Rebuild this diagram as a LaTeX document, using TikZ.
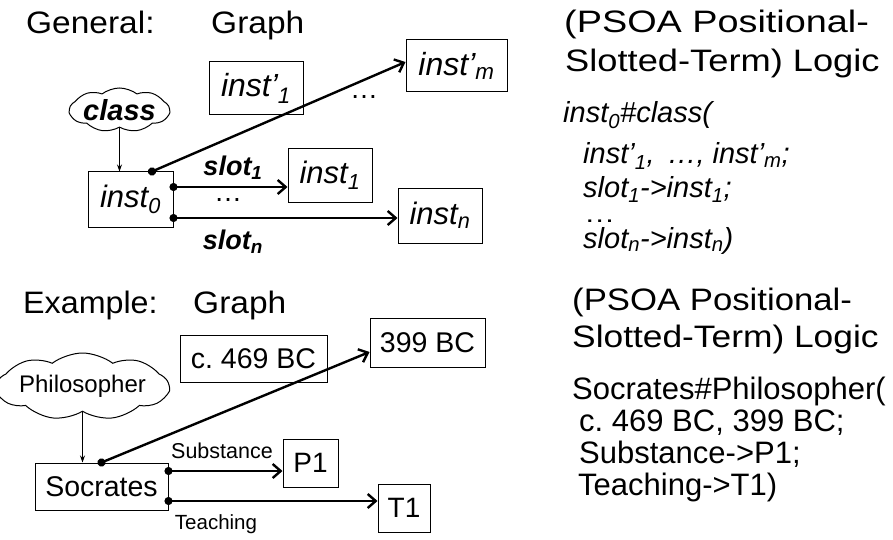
\documentclass[tikz,border=0pt]{standalone}
\usepackage{fontspec}
\setmainfont{Liberation Sans}
\usepackage{tikz}
\usetikzlibrary{arrows.meta, shapes.symbols}
\frenchspacing

\begin{document}
\begin{tikzpicture}[x=1pt,y=-1pt]
        % Setup the styles
        \tikzset{title style/.style={anchor=base west, inner sep=0,
                                     font=\fontsize{31}{37}\selectfont},
                 formula style/.style={anchor=base west, inner sep=0,
                                       font=\fontsize{29}{35}\selectfont},
                 box style/.style={draw, line width=1pt, inner sep=0,
                                   font=\fontsize{29}{35}\selectfont},
                 cloud style/.style={cloud, draw, line width=1pt, inner sep=0,
                                     cloud puffs=9, cloud puff arc=75,
                                     cloud ignores aspect},
                 label style/.style={inner sep=0},
                 link arrow/.style={line width=2.4pt, shorten <=-4pt,
                                    {Circle[length=8pt]}-{Straight Barb[length=8pt,width=14pt]}},
                 type arrow/.style={line width=0.8pt,
                                    -{Stealth[length=7pt,width=5pt]}}}

        \useasboundingbox (0,0) rectangle (893,540);

        % General part
        \node[title style] at (26, 34)  (general) {\scalebox{1.08}[1]{General:}};
        \node[title style] at (211, 34) (graphA)  {\scalebox{1.08}[1]{Graph}};

        \node[cloud style, minimum width=95pt, minimum height=44pt,
              font=\fontsize{29}{35}\selectfont\bfseries\itshape]
              at (119.5, 110) (class) {class};
        \node[box style, minimum width=85pt, minimum height=55pt, font=\fontsize{31}{37}\selectfont\itshape]
              at (130.5, 199.5) (inst0) {inst\textsubscript{0}};
        \node[box style, minimum width=94pt, minimum height=53pt, font=\fontsize{32}{38}\selectfont\itshape]
              at (256, 88.5)    (instA1) {inst'\textsubscript{1}};
        \node[box style, minimum width=101pt, minimum height=52pt, font=\fontsize{32}{38}\selectfont\itshape]
              at (456.5, 66)    (instAm) {inst'\textsubscript{m}};
        \node[box style, minimum width=84pt, minimum height=53pt, font=\fontsize{31}{37}\selectfont\itshape]
              at (330, 175.5)   (inst1) {inst\textsubscript{1}};
        \node[box style, minimum width=84pt, minimum height=55pt, font=\fontsize{31}{37}\selectfont\itshape]
              at (440, 215.5)   (instn) {inst\textsubscript{n}};

        \node[label style, font=\fontsize{28}{34}\selectfont] at (364, 97)  (dotsA) {…};
        \node[label style, font=\fontsize{27}{32}\selectfont\bfseries\itshape]
              at (233, 168) (slot1) {slot\textsubscript{1}};
        \node[label style, font=\fontsize{28}{34}\selectfont] at (228, 200) (dotsB) {…};
        \node[label style, font=\fontsize{27}{32}\selectfont\bfseries\itshape]
              at (233, 242) (slotn) {slot\textsubscript{n}};

        % Connect the general nodes
        \draw[type arrow] (class.south) -- (class.south |- inst0.north);
        \draw[link arrow] ([xshift=21.5pt]inst0.north) -- ([yshift=4pt]instAm.west);
        \draw[link arrow] ([yshift=12.5pt]inst0.east) -- ([yshift=12.5pt]inst0.east -| inst1.west);
        \draw[link arrow] ([yshift=-18.5pt]inst0.east) -- ([yshift=-18.5pt]inst0.east -| instn.west);

        \node[title style] at (564, 33) (psoaA) {\scalebox{1.22}[1]{(PSOA Positional-}};
        \node[title style] at (565, 72) (logicA) {\scalebox{1.17}[1]{Slotted-Term) Logic}};

        \node[formula style, font=\fontsize{29}{35}\selectfont\itshape] at (563, 123) (formA1)
              {inst\textsubscript{0}\#class(};
        \node[formula style, font=\fontsize{29}{35}\selectfont\itshape] at (583, 164) (formA2)
              {inst'\textsubscript{1}, \,…, inst'\textsubscript{m};};
        \node[formula style, font=\fontsize{29}{35}\selectfont\itshape] at (583, 197) (formA3)
              {slot\textsubscript{1}->inst\textsubscript{1};};
        \node[formula style, font=\fontsize{24}{29}\selectfont] at (584, 222) (formA4)
              {\scalebox{1.3}[1]{…}};
        \node[formula style, font=\fontsize{29}{35}\selectfont\itshape] at (583, 248) (formA5)
              {slot\textsubscript{n}->inst\textsubscript{n})};

        % Example part
        \node[title style] at (23, 313)  (example) {\scalebox{1.04}[1]{Example:}};
        \node[title style] at (193, 313) (graphB)  {\scalebox{1.08}[1]{Graph}};

        \node[cloud style, minimum width=155pt, minimum height=67pt,
              font=\fontsize{24}{29}\selectfont]
              at (82.5, 386.5) (phil) {Philosopher};
        \node[box style, minimum width=133pt, minimum height=47pt, font=\fontsize{28.5}{34}\selectfont]
              at (101.5, 486.5) (socrates) {Socrates};
        \node[box style, minimum width=147pt, minimum height=47pt, font=\fontsize{28.5}{34}\selectfont]
              at (253.5, 358.5) (bcA) {c. 469 BC};
        \node[box style, minimum width=115pt, minimum height=49pt, font=\fontsize{28.5}{34}\selectfont]
              at (427.5, 342.5) (bcB) {399 BC};
        \node[box style, minimum width=55pt, minimum height=48pt, font=\fontsize{28}{34}\selectfont]
              at (310.5, 463) (pone) {P1};
        \node[box style, minimum width=52pt, minimum height=48pt, font=\fontsize{28}{34}\selectfont]
              at (404, 508) (tone) {T1};

        \node[label style, font=\fontsize{21.5}{26}\selectfont] at (222, 451) (substance) {Substance};
        \node[label style, font=\fontsize{20.5}{25}\selectfont] at (216, 524) (teaching) {Teaching};

        % Connect the example nodes
        \draw[type arrow] (phil.south) -- (phil.south |- socrates.north);
        \draw[link arrow] (socrates.north) -- ([yshift=-9.5pt]bcB.west);
        \draw[link arrow] ([yshift=15.5pt]socrates.east) -- ([yshift=15.5pt]socrates.east -| pone.west);
        \draw[link arrow] ([yshift=-14.5pt]socrates.east) -- ([yshift=-14.5pt]socrates.east -| tone.west);

        \node[title style] at (572, 310) (psoaB) {\scalebox{1.12}[1]{(PSOA Positional-}};
        \node[title style] at (572, 347) (logicB) {\scalebox{1.14}[1]{Slotted-Term) Logic}};

        \node[formula style, font=\fontsize{31}{37}\selectfont] at (572, 399) (formB1)
              {Socrates\#Philosopher(};
        \node[formula style, font=\fontsize{31}{37}\selectfont] at (579, 431) (formB2)
              {c. 469 BC, 399 BC;};
        \node[formula style, font=\fontsize{31}{37}\selectfont] at (579, 463) (formB3)
              {Substance->P1;};
        \node[formula style, font=\fontsize{31}{37}\selectfont] at (578, 495) (formB4)
              {Teaching->T1)};
\end{tikzpicture}
\end{document}
